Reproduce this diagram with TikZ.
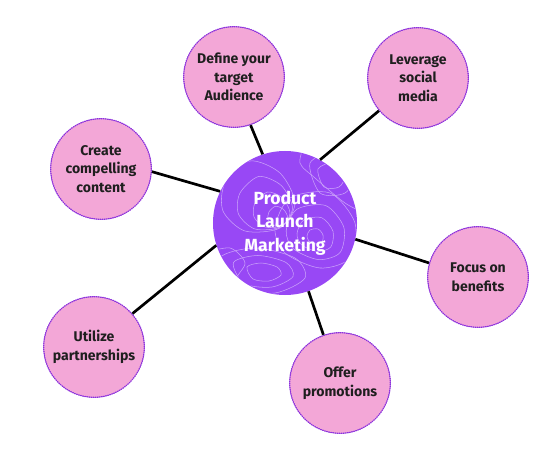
\documentclass[tikz,border=0pt]{standalone}
\usepackage{fontspec}
\setmainfont{Fira Sans}
\usepackage{tikz}
\definecolor{hubpurple}{RGB}{152,72,245}
\definecolor{leafpink}{RGB}{243,167,215}
\definecolor{rimpurple}{RGB}{140,50,220}

\begin{document}
\begin{tikzpicture}[x=0.03cm, y=-0.03cm, line cap=round,
hub/.style={circle, fill=hubpurple, text=white, minimum size=4.32cm,
inner sep=0pt, align=center, font=\bfseries\fontsize{15}{20}\selectfont},
leaf/.style={circle, fill=leafpink, draw=rimpurple, line width=1.1pt,
dash pattern=on 0.7pt off 1.1pt, minimum size=3.02cm, inner sep=0pt,
align=center, font=\bfseries\fontsize{12}{16}\selectfont, text=black!88},
contour/.style={white!50!hubpurple, line width=0.45pt}]
  \useasboundingbox (0,0) rectangle (555,450);
  % 1 center node
  \node[hub] (hub) at (285,223) {};
  \begin{scope}
    \clip (285,223) circle [radius=2.14cm];
    \begin{scope}[shift={(285,223)}]
      \foreach \s in {1,0.75,0.5,0.27}
        \draw[contour, scale=\s] plot[smooth cycle] coordinates
          {(-60,-40) (-35,-62) (-5,-50) (10,-20) (-5,5) (-40,8) (-62,-12)};
      \foreach \s in {1,0.72,0.45,0.2}
        \draw[contour, shift={(30,15)}, scale=\s] plot[smooth cycle] coordinates
          {(-25,-40) (15,-45) (40,-15) (35,20) (5,30) (-30,15) (-40,-10)};
      \foreach \s in {1,0.7,0.4}
        \draw[contour, shift={(-20,50)}, scale=\s] plot[smooth cycle] coordinates
          {(-45,-15) (-10,-25) (30,-15) (40,5) (10,20) (-30,15)};
      \foreach \s in {1,0.6}
        \draw[contour, shift={(45,-45)}, scale=\s] plot[smooth cycle] coordinates
          {(-20,-15) (5,-25) (25,-5) (15,15) (-10,15)};
      \draw[contour] plot[smooth] coordinates
        {(-80,30) (-55,25) (-40,40) (-50,60) (-30,80)};
      \draw[contour] plot[smooth] coordinates
        {(20,-80) (15,-60) (30,-45) (60,-20) (80,-10)};
    \end{scope}
  \end{scope}
  \node[hub, fill=none] at (285,223) {Product\\Launch\\Marketing};
  % 6 outside nodes
  \node[leaf] (define)   at (234,77)  {Define your\\target\\Audience};
  \node[leaf] (leverage) at (418,78)  {Leverage\\social\\media};
  \node[leaf] (create)   at (101,169) {Create\\compelling\\content};
  \node[leaf] (focus)    at (478,277) {Focus on\\benefits};
  \node[leaf] (utilize)  at (94,347)  {Utilize\\partnerships};
  \node[leaf] (offer)    at (340,383) {Offer\\promotions};

\foreach \from/\to in {hub.108/define.289, hub.61/leverage.220,
    hub.154/create.-3, hub.347/focus.164, hub.198/utilize.41,
    hub.289/offer.109}
    \draw[-, line width=2.3pt, line cap=butt] (\from) -- (\to);
\end{tikzpicture}
\end{document}
